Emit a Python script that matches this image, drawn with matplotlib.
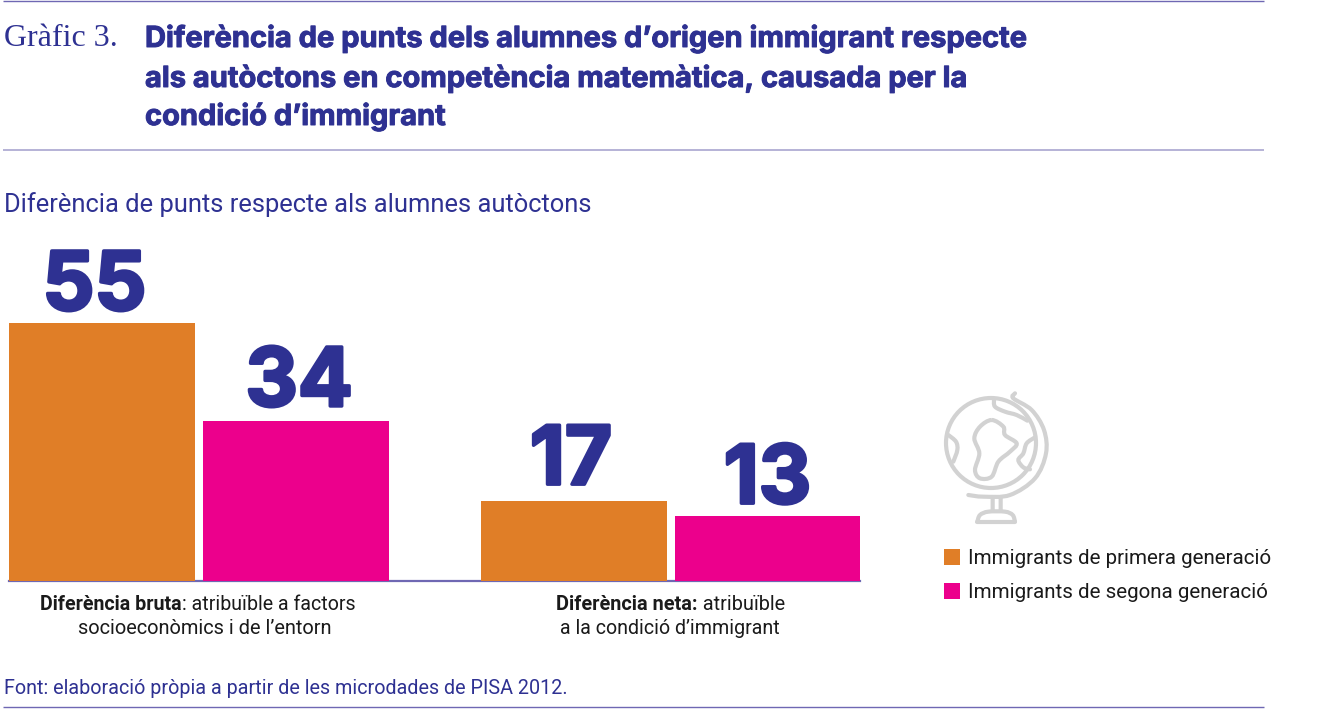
#!/usr/bin/python

import numpy as np
import matplotlib
matplotlib.use('Agg')
import matplotlib.pyplot as plt
import matplotlib.patheffects as pe
from matplotlib.patches import Circle, PathPatch, Rectangle
from matplotlib.path import Path

W, H = 1327, 709

# data
bar_positions = [0, 1.041, 2.535, 3.578]
bar_values = [55, 34.1, 17, 13.8]
bar_labels = ['55', '34', '17', '13']
legend_names = ['Immigrants de primera generació', 'Immigrants de segona generació']

NAVY = '#2e3192'
RULE = '#6f68b3'
RULE_LIGHT = '#a9a6cf'
ORANGE = '#e07e27'
PINK = '#ec008c'
GREY = '#d2d2d2'
BLACK = '#1a1a1a'
bar_colors = [ORANGE, PINK, ORANGE, PINK]

BODY = 'Roboto'
HEAD = 'Inter'

# label nudges in pixels, the numbers do not sit centred on the bars
label_dx = [-7.5, 3.5, -2.5, 0]
label_gap = [13, 15, 17, 13]


def smooth_path(pts, closed=False):
    # catmull-rom through the outline points, as bezier segments
    pts = np.array(pts, dtype=float)
    n = len(pts)
    verts = [pts[0]]
    codes = [Path.MOVETO]
    last = n if closed else n - 1
    for i in range(last):
        if closed:
            p0, p1, p2, p3 = pts[(i - 1) % n], pts[i], pts[(i + 1) % n], pts[(i + 2) % n]
        else:
            p0, p1, p2, p3 = pts[max(i - 1, 0)], pts[i], pts[i + 1], pts[min(i + 2, n - 1)]
        verts += [p1 + (p2 - p0) / 6, p2 - (p3 - p1) / 6, p2]
        codes += [Path.CURVE4] * 3
    return Path(verts, codes)


def globe_px(pts):
    return [(920 + x / 3, 380 + y / 3) for x, y in pts]


fig = plt.figure(figsize=(W / 100, H / 100), dpi=100, facecolor='white')

# bars, in their own axes so the height comes from the scale
ax = fig.add_axes([9 / W, 1 - 581 / H, 851 / W, 258 / H])
ax.bar(bar_positions, bar_values, width=1, color=bar_colors, zorder=3)
ax.set_xlim(-0.5, 851 / 186 - 0.5)
ax.set_ylim(0, 55)
ax.patch.set_alpha(0)
for s in ['top', 'left', 'right']:
    ax.spines[s].set_visible(False)
ax.spines['bottom'].set_color(RULE)
ax.spines['bottom'].set_linewidth(1.6)
ax.set_xticks([])
ax.set_yticks([])
for x, v, lab, dx, gap in zip(bar_positions, bar_values, bar_labels, label_dx, label_gap):
    ax.annotate(lab, (x, v), xytext=(dx * 0.72, gap * 0.72), textcoords='offset points',
                ha='center', va='baseline', fontsize=58.5, fontweight='bold', family='Inter',
                color=NAVY, clip_on=False,
                path_effects=[pe.withStroke(linewidth=2.4, foreground=NAVY)])

# everything else is placed in pixels on an overlay
ov = fig.add_axes([0, 0, 1, 1], zorder=5)
ov.set_xlim(0, W)
ov.set_ylim(H, 0)
ov.axis('off')

for y, c, lw in [(0.5, RULE, 1.0), (150, RULE_LIGHT, 1.2), (706.5, RULE, 1.0)]:
    ov.plot([3, 1264], [y, y], color=c, lw=lw, solid_capstyle='butt')

ov.text(4, 38, 'Gràfic 3.', family='Liberation Serif', fontsize=23, color=NAVY, va='center')
title_lines = ['Diferència de punts dels alumnes d’origen immigrant respecte',
               'als autòctons en competència matemàtica, causada per la',
               'condició d’immigrant']
for y, line in zip([39, 79, 117], title_lines):
    ov.text(145, y, line, family=HEAD, fontweight='bold', fontsize=20.92, color=NAVY, va='center',
            path_effects=[pe.withStroke(linewidth=0.7, foreground=NAVY)])

ov.text(4, 205, 'Diferència de punts respecte als alumnes autòctons', family=BODY,
        fontsize=18.35, color=NAVY, va='center')

# category captions, bold run followed by the normal one
r = fig.canvas.get_renderer()


def mixed(y, xc, bold, normal, size=14.1):
    t1 = ov.text(0, y, bold, family=BODY, fontweight='bold', fontsize=size, color=BLACK, va='center')
    t2 = ov.text(0, y, normal, family=BODY, fontsize=size, color=BLACK, va='center')
    w1 = t1.get_window_extent(r).width
    w2 = t2.get_window_extent(r).width
    x0 = xc - (w1 + w2) / 2
    t1.set_x(x0)
    t2.set_x(x0 + w1)


mixed(604, 198, 'Diferència bruta', ': atribuïble a factors')
ov.text(205, 628, 'socioeconòmics i de l’entorn', family=BODY, fontsize=14.4, color=BLACK, va='center', ha='center')
mixed(604, 670.5, 'Diferència neta:', ' atribuïble', size=14.3)
ov.text(670, 628, 'a la condició d’immigrant', family=BODY, fontsize=14.1, color=BLACK, va='center', ha='center')

ov.text(4, 689, 'Font: elaboració pròpia a partir de les microdades de PISA 2012.', family=BODY,
        fontsize=14.25, color=NAVY, va='center')

# legend
for y, c, name in zip([557, 591], [ORANGE, PINK], legend_names):
    ov.add_patch(Rectangle((944, y - 8), 16, 16, color=c, lw=0))
    ov.text(968, y + 1, name, family=BODY, fontsize=14.8, color=BLACK, va='center')

# globe icon
glw = 3.0
ov.add_patch(Circle((991, 443), 45, fill=False, ec=GREY, lw=glw))
land = [
    [(215, 120), (250, 140), (255, 165), (290, 190), (270, 215), (235, 245), (215, 290),
     (180, 295), (165, 270), (178, 220), (163, 175), (180, 140)],
]
for pts in land:
    ov.add_patch(PathPatch(smooth_path(globe_px(pts), closed=True), fill=False, ec=GREY, lw=glw))
coasts = [
    [(222, 58), (225, 80), (255, 95), (290, 105), (322, 122)],
    [(85, 165), (108, 185), (112, 210), (100, 245)],
    [(345, 172), (320, 190), (310, 220), (295, 240), (310, 262), (330, 268)],
]
for pts in coasts:
    ov.add_patch(PathPatch(smooth_path(globe_px(pts)), fill=False, ec=GREY, lw=glw, capstyle='round'))
meridian = [(285, 40), (280, 55), (335, 90), (372, 150), (378, 220), (345, 295), (270, 345), (190, 350), (145, 345)]
ov.add_patch(PathPatch(smooth_path(globe_px(meridian)), fill=False, ec=GREY, lw=glw, capstyle='round'))
stand = [[(218, 352), (218, 395)], [(242, 350), (242, 395)]]
for pts in stand:
    ov.add_patch(PathPatch(smooth_path(globe_px(pts)), fill=False, ec=GREY, lw=glw))
base = [(172, 425), (180, 405), (205, 395), (255, 395), (278, 405), (285, 425)]
ov.add_patch(PathPatch(smooth_path(globe_px(base)), fill=False, ec=GREY, lw=glw))
ov.plot([977, 1015], [521.5, 521.5], color=GREY, lw=glw, solid_capstyle='round')

fig.savefig('out.png', dpi=100)
